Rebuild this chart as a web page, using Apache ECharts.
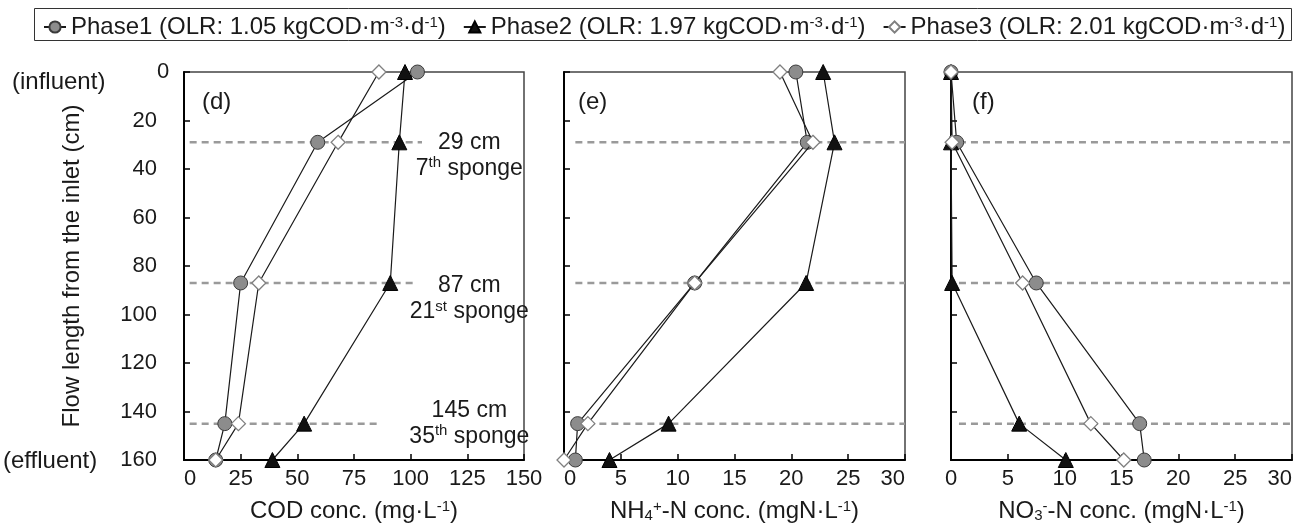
<!DOCTYPE html>
<html>
<head>
<meta charset="utf-8">
<script src="https://cdn.jsdelivr.net/npm/echarts@6/dist/echarts.min.js"></script>
<style>
html,body{margin:0;padding:0;background:#fff;}
#c{width:1304px;height:528px;}
</style>
</head>
<body>
<div id="c"></div>
<script>
// ---------------- data ----------------
const depths = [0, 29, 87, 145, 160];            // flow length from inlet (cm)
const phaseNames = ['Phase1', 'Phase2', 'Phase3'];
const phaseOLR = ['1.05', '1.97', '2.01'];

const codPhase1 = [103, 59, 25, 18, 14];
const codPhase2 = [97.5, 95, 91, 53, 39];
const codPhase3 = [86, 68, 33, 24, 14];

const nh4Phase1 = [20.4, 21.4, 11.5, 1.2, 1.0];
const nh4Phase2 = [22.8, 23.8, 21.3, 9.2, 4.0];
const nh4Phase3 = [19.0, 21.9, 11.5, 2.1, 0.0];

const no3Phase1 = [0, 0.5, 7.5, 16.6, 17.0];
const no3Phase2 = [0, 0, 0.1, 6.0, 10.1];
const no3Phase3 = [0, 0.1, 6.3, 12.3, 15.2];

const spongeDepths = [29, 87, 145];
const spongeCm = ['29 cm', '87 cm', '145 cm'];
const spongeOrdinal = ['7', '21', '35'];
const spongeSuffix = ['th', 'st', 'th'];
const dashFromCOD = [2.5, 2.5, 2.5];
const dashToCOD = [105, 101, 86];

const panelLetters = ['(d)', '(e)', '(f)'];
const yTickLabels = ['0', '20', '40', '60', '80', '100', '120', '140', '160'];
const endLabels = ['(influent)', '(effluent)'];

// ---------------- style ----------------
const FONT = "'Liberation Sans', Arial, Helvetica, sans-serif";
const TXT = '#1a1a1a';
const richStyles = {
  sup: { fontSize: 15, fontFamily: FONT, color: TXT, verticalAlign: 'top', lineHeight: 15 },
  sub: { fontSize: 15, fontFamily: FONT, color: TXT, verticalAlign: 'bottom', lineHeight: 15 }
};

const gridsLayout = [
  { left: 184, top: 72, width: 340, height: 389 },
  { left: 564, top: 72, width: 341, height: 389 },
  { left: 951, top: 72, width: 341, height: 389 }
];

const panels = [
  { vals: [codPhase1, codPhase2, codPhase3], max: 150, interval: 25,
    name: 'COD conc. (mg·L{sup|-1})', alignMin: 'left', alignMax: 'center', dashFrom: 2.5, dashTo: null },
  { vals: [nh4Phase1, nh4Phase2, nh4Phase3], max: 30, interval: 5,
    name: 'NH{sub|4}{sup|+}-N conc. (mgN·L{sup|-1})', alignMin: 'left', alignMax: 'right', dashFrom: 1, dashTo: 30 },
  { vals: [no3Phase1, no3Phase2, no3Phase3], max: 30, interval: 5,
    name: 'NO{sub|3}{sup|-}-N conc. (mgN·L{sup|-1})', alignMin: 'center', alignMax: 'right', dashFrom: 0.7, dashTo: 30 }
];

const phaseStyles = [
  { symbol: 'circle', symbolSize: 14, itemStyle: { color: '#8c8c8c', borderColor: '#3a3a3a', borderWidth: 1 } },
  { symbol: 'triangle', symbolSize: 15, itemStyle: { color: '#111', borderColor: '#000', borderWidth: 1 } },
  { symbol: 'diamond', symbolSize: 14, itemStyle: { color: '#fff', borderColor: '#808080', borderWidth: 1.3 } }
];

const grid = [], xAxis = [], yAxis = [], series = [];

panels.forEach((p, gi) => {
  grid.push(Object.assign({ show: true, borderColor: '#444', borderWidth: 1.5, containLabel: false }, gridsLayout[gi]));
  xAxis.push({
    type: 'value', gridIndex: gi, min: 0, max: p.max, interval: p.interval,
    axisLine: { show: true, onZero: false, lineStyle: { color: '#000', width: 2 } },
    axisTick: { show: true, inside: true, length: 6, lineStyle: { color: '#000', width: 1.5 } },
    splitLine: { show: false },
    axisLabel: { fontFamily: FONT, fontSize: 22, color: TXT, margin: 8,
                 alignMinLabel: p.alignMin, alignMaxLabel: p.alignMax },
    name: p.name, nameLocation: 'middle', nameGap: 39,
    nameTextStyle: { fontFamily: FONT, fontSize: 24, color: TXT, rich: richStyles }
  });
  yAxis.push({
    type: 'value', gridIndex: gi, inverse: true, min: 0, max: 160, interval: 20,
    axisLine: { show: true, onZero: false, lineStyle: { color: '#000', width: 2 } },
    axisTick: { show: true, inside: true, length: 6, lineStyle: { color: '#000', width: 1.5 } },
    splitLine: { show: false },
    axisLabel: { show: gi === 0, fontFamily: FONT, fontSize: 22, color: TXT, margin: 27,
                 padding: [8, 0, 0, 0], alignMinLabel: 'top',
                 formatter: (v) => yTickLabels[Math.round(v / 20)] },
    name: gi === 0 ? 'Flow length from the inlet (cm)' : '',
    nameLocation: 'middle', nameGap: 100,
    nameTextStyle: { fontFamily: FONT, fontSize: 24, color: TXT }
  });

  // dashed sponge reference lines
  spongeDepths.forEach((d, k) => {
    const from = gi === 0 ? dashFromCOD[k] : p.dashFrom;
    const to = gi === 0 ? dashToCOD[k] : p.dashTo;
    series.push({
      type: 'line', xAxisIndex: gi, yAxisIndex: gi, silent: true, z: 1,
      symbol: 'none', animation: false,
      lineStyle: { color: '#9a9a9a', width: 2.5, type: [7, 5] },
      data: [[from, d], [to, d]]
    });
  });

  // phase series
  p.vals.forEach((vals, si) => {
    series.push(Object.assign({
      type: 'line', name: phaseNames[si], xAxisIndex: gi, yAxisIndex: gi, z: 3 + si,
      clip: false, animation: false,
      lineStyle: { color: '#1a1a1a', width: 1.2 },
      data: depths.map((d, i) => [vals[i], d])
    }, phaseStyles[si]));
  });
});

const option = {
  backgroundColor: '#fff',
  animation: false,
  textStyle: { fontFamily: FONT },
  legend: {
    data: phaseNames,
    left: 38, top: 10,
    itemWidth: 22, itemHeight: 14, itemGap: 17,
    textStyle: { fontFamily: FONT, fontSize: 24, color: TXT, rich: richStyles },
    formatter: (name) => {
      const i = phaseNames.indexOf(name);
      return name + ' (OLR: ' + phaseOLR[i] + ' kgCOD·m{sup|-3}·d{sup|-1})';
    }
  },
  grid, xAxis, yAxis, series
};

const chart = echarts.init(document.getElementById('c'), null, { renderer: 'canvas' });
chart.setOption(option);

// ---------------- annotations ----------------
const px = (g, x, y) => chart.convertToPixel({ gridIndex: g }, [x, y]);
const graphic = [];

graphic.push({
  type: 'rect', silent: true, z: 0,
  shape: { x: 34.5, y: 8.5, width: 1257, height: 32 },
  style: { fill: 'none', stroke: '#333', lineWidth: 1 }
});

const blockOffsets = [13, 16, 0];
spongeDepths.forEach((d, k) => {
  const p = px(0, 125, d);
  graphic.push({
    type: 'text', silent: true, z: 10,
    x: p[0] + 2, y: p[1] + blockOffsets[k],
    style: {
      text: '{a|' + spongeCm[k] + '}\n{a|' + spongeOrdinal[k] + '}{s|' + spongeSuffix[k] + '}{a| sponge}',
      align: 'center', verticalAlign: 'middle',
      rich: {
        a: { fontFamily: FONT, fontSize: 23, fill: TXT, lineHeight: 26, color: TXT },
        s: { fontFamily: FONT, fontSize: 15, fill: TXT, color: TXT, verticalAlign: 'top', lineHeight: 26, padding: [0, 0, 8, 0] }
      }
    }
  });
});

panelLetters.forEach((t, gi) => {
  const g = gridsLayout[gi];
  graphic.push({
    type: 'text', silent: true, z: 10,
    x: g.left + (gi === 0 ? 18 : (gi === 1 ? 14 : 21)), y: g.top + 30,
    style: { text: t, fontFamily: FONT, fontSize: 24, fill: TXT, align: 'left', verticalAlign: 'middle' }
  });
});

const pTop = px(0, 0, 0), pBot = px(0, 0, 160);
graphic.push({
  type: 'text', silent: true, z: 10, x: 12, y: pTop[1] + 10,
  style: { text: endLabels[0], fontFamily: FONT, fontSize: 24, fill: TXT, align: 'left', verticalAlign: 'middle' }
});
graphic.push({
  type: 'text', silent: true, z: 10, x: 3, y: pBot[1] + 1,
  style: { text: endLabels[1], fontFamily: FONT, fontSize: 24, fill: TXT, align: 'left', verticalAlign: 'middle' }
});

chart.setOption({ graphic });
</script>
</body>
</html>
